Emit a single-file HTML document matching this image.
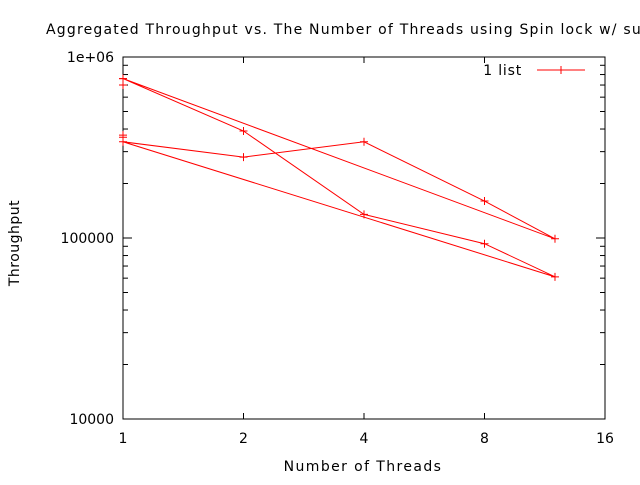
<!DOCTYPE html>
<html><head><meta charset="utf-8"><style>
body{margin:0;background:#fff}
svg text{font-family:"DejaVu Sans","Liberation Sans",sans-serif;font-size:14px;fill:#000}
</style></head><body>
<svg width="640" height="480" viewBox="0 0 640 480">
<g id="axes"></g>
<path id="series" fill="none" stroke="#f00" stroke-width="1"/>
<g id="marks"></g>
<text x="46" y="34" letter-spacing="1.2">Aggregated Throughput vs. The Number of Threads using Spin lock w/ sub-lists</text>
<text x="363" y="471" text-anchor="middle" letter-spacing="1.4">Number of Threads</text>
<text transform="translate(19,243) rotate(-90)" text-anchor="middle" letter-spacing="0.5">Throughput</text>
<g>
<text x="522" y="75" text-anchor="end" letter-spacing="0.8">1 list</text>
<line x1="537" y1="70" x2="585" y2="70" stroke="#f00"/>
<path d="M557 70h8M561 66v8" stroke="#f00"/>
</g>
</svg>
<script>
const threads=[1,2,4,8,12,1,2,4,8,12,1];
const throughput=[760000,390000,135000,93000,61000,340000,280000,340000,160000,99000,760000];
const extraThreads=[1,1,1];
const extraThroughput=[700000,370000,360000];
const xTicks=[1,2,4,8,16];
const yTicks=[10000,100000,1000000];
const yTickLabels=["10000","100000","1e+06"];
const L=123,R=605,T=57,B=419;
const xs=v=>L+(R-L)*Math.log2(v)/4;
const ys=v=>B-(B-T)*(Math.log10(v)-4)/2;
const NS="http://www.w3.org/2000/svg";
const ax=document.getElementById('axes');
function el(t,a,p){const e=document.createElementNS(NS,t);for(const k in a)e.setAttribute(k,a[k]);(p||ax).appendChild(e);return e;}
el('rect',{x:L,y:T,width:R-L,height:B-T,fill:'none',stroke:'#000'});
xTicks.forEach(v=>{const x=xs(v);
el('line',{x1:x,y1:B,x2:x,y2:B-6,stroke:'#000'});el('line',{x1:x,y1:T,x2:x,y2:T+6,stroke:'#000'});
const t=el('text',{x:x,y:B+24,'text-anchor':'middle'});t.textContent=v;

});
yTicks.forEach((v,i)=>{const y=ys(v);
el('line',{x1:L,y1:y,x2:L+9,y2:y,stroke:'#000'});el('line',{x1:R,y1:y,x2:R-9,y2:y,stroke:'#000'});
const t=el('text',{x:L-9,y:y+5,'text-anchor':'end'});t.textContent=yTickLabels[i];


if(i<yTicks.length-1)for(let m=2;m<10;m++){const yy=ys(v*m);
el('line',{x1:L,y1:yy,x2:L+5,y2:yy,stroke:'#000'});el('line',{x1:R,y1:yy,x2:R-5,y2:yy,stroke:'#000'});}});
let d='';threads.forEach((t,i)=>{d+=(i?'L':'M')+xs(t)+' '+ys(throughput[i]);});
document.getElementById('series').setAttribute('d',d);
const mk=document.getElementById('marks');
function mark(t,v){const x=xs(t),y=ys(v);const p=el('path',{d:`M${x-4} ${y}h8M${x} ${y-4}v8`,stroke:'#f00'},mk);

}
threads.forEach((t,i)=>mark(t,throughput[i]));
extraThreads.forEach((t,i)=>mark(t,extraThroughput[i]));
</script>
</body></html>
